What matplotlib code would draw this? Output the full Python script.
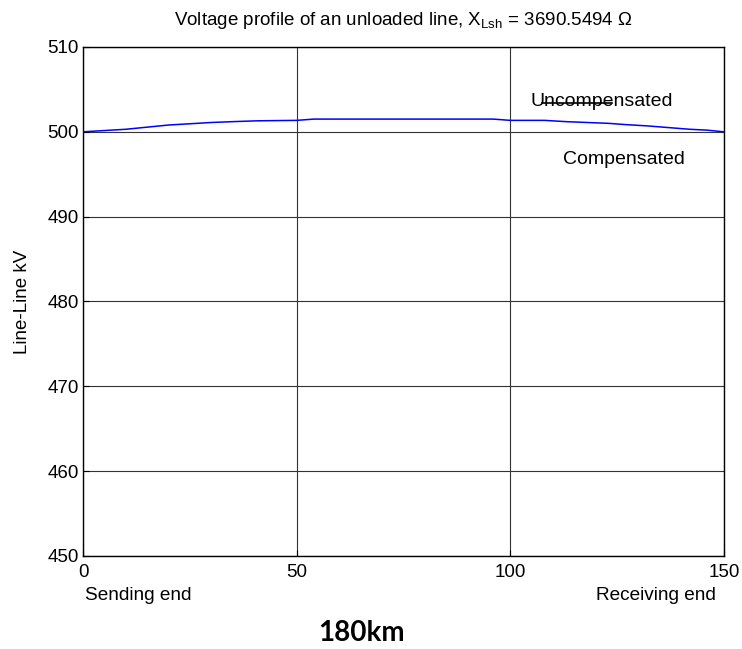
import matplotlib
matplotlib.use("Agg")
import matplotlib.pyplot as plt

# Distance along the line (km) and line-to-line voltage (kV)
distance_km = [0, 5, 10, 15, 20, 25, 30, 35, 41, 50, 54, 60, 70, 80, 90, 96,
               100, 108, 113, 118, 123, 127, 132, 137, 142, 146, 150]
voltage_kv = [500.0, 500.15, 500.3, 500.55, 500.8, 500.95, 501.1, 501.2, 501.3,
              501.35, 501.5, 501.5, 501.5, 501.5, 501.5, 501.5,
              501.35, 501.35, 501.2, 501.1, 501.0, 500.85, 500.7, 500.5, 500.3,
              500.2, 500.0]

x_ticks = [0, 50, 100, 150]
y_ticks = [450, 460, 470, 480, 490, 500, 510]

txt_font = ["Liberation Sans", "DejaVu Sans"]
plt.rcParams["font.family"] = txt_font

fig = plt.figure(figsize=(7.42, 6.49), dpi=100)
ax = fig.add_axes([0.1119, 0.1433, 0.8638, 0.7843])

ax.plot(distance_km, voltage_kv, color="#0000ff", lw=1.1, zorder=3)

ax.set_xlim(0, 150)
ax.set_ylim(450, 510)
ax.set_xticks(x_ticks)
ax.set_yticks(y_ticks)
ax.tick_params(direction="in", length=4, width=0.8, labelsize=13.5, pad=3)
ax.tick_params(axis="x", pad=6)
ax.grid(True, color="#333333", lw=0.8)
for s in ax.spines.values():
    s.set_color("black")
    s.set_linewidth(1.0)

ax.set_ylabel("Line-Line kV", fontsize=13.5, labelpad=12)
ax.set_title(r"Voltage profile of an unloaded line, X$_{\mathregular{Lsh}}$ = 3690.5494 Ω",
             fontsize=13.5, pad=16)

ax.text(104.8, 503.6, "Uncompensated", fontsize=14, va="center", ha="left")
ax.plot([107.4, 123.8], [503.4, 503.4], color="black", lw=1.2, zorder=4)
ax.text(112.3, 496.7, "Compensated", fontsize=14, va="center", ha="left")

fig.text(0.114, 0.082, "Sending end", fontsize=13.7, ha="left", va="center")
fig.text(0.965, 0.082, "Receiving end", fontsize=13.7, ha="right", va="center")
fig.text(0.4875, 0.024, "180km", fontsize=20, family=["Lato", "DejaVu Sans"],
         fontweight="bold", ha="center", va="center")

fig.savefig("out.png", dpi=100, facecolor="white")
